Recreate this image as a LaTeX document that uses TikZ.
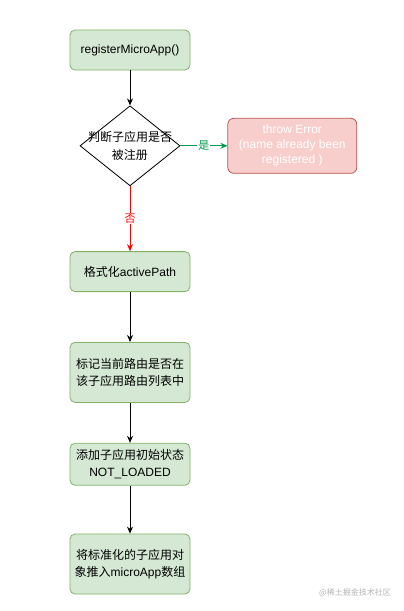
\documentclass[tikz,border=0pt]{standalone}
\usepackage{fontspec}
\setmainfont{Liberation Sans}
\newfontfamily\cjk{Noto Sans CJK SC}
\usepackage{xcolor}
\usepackage{tikz}
\usetikzlibrary{positioning,arrows.meta,shapes.geometric}
\definecolor{boxgreen}{HTML}{D5E8D4}
\definecolor{linegreen}{HTML}{82B366}
\definecolor{boxred}{HTML}{F8CECC}
\definecolor{linered}{HTML}{B85450}
\definecolor{yesgreen}{HTML}{00994D}
\definecolor{nored}{HTML}{FF0000}

\begin{document}
\begin{tikzpicture}[
    x=1pt, y=1pt,
    font=\fontsize{12}{17.5}\selectfont,
    stepbox/.style={rectangle, rounded corners=5pt, draw=linegreen, fill=boxgreen,
                    line width=0.8pt, minimum width=120pt, minimum height=40pt, align=center, inner sep=2pt},
    check/.style={diamond, draw=black, fill=white, line width=0.8pt,
                  minimum width=100pt, minimum height=80pt, inner sep=0pt},
    errbox/.style={rectangle, rounded corners=6pt, draw=linered, fill=boxred, text=white,
                   line width=0.8pt, minimum width=129pt, minimum height=55pt, align=center,
                   font=\fontsize{12}{15}\selectfont},
    arrow/.style={-{Stealth[length=7pt,width=6pt]}, line width=0.9pt},
    yesline/.style={arrow, draw=yesgreen},
    noline/.style={arrow, draw=nored}
]
\useasboundingbox (0,0) rectangle (404,-611);

% Main column
\node[stepbox] (reg) at (130,-50) {registerMicroApp()};
\node[check, below=35pt of reg, label={[align=center]center:{\cjk 判断子应用是否}\\{\cjk 被注册}}] (judge) {};
\node[errbox, right=47pt of judge] (err) {throw Error\\ (name already been\\registered )};
\node[stepbox, below=65pt of judge] (fmt) {{\cjk 格式化}activePath};
\node[stepbox, below=50pt of fmt, minimum height=60pt] (mark) {{\cjk 标记当前路由是否在}\\{\cjk 该子应用路由列表中}};
\node[stepbox, below=40pt of mark, minimum height=42pt] (init) {{\cjk 添加子应用初始状态}\\NOT\_LOADED};
\node[stepbox, below=48pt of init, minimum height=60pt] (push) {{\cjk 将标准化的子应用对}\\{\cjk 象推入}microApp{\cjk 数组}};

% Connections
\draw[arrow] (reg) -- (judge);
\draw[yesline] (judge) -- node[fill=white, text=yesgreen, inner sep=1pt, font=\cjk\fontsize{11}{12}\selectfont] {是} (err);
\draw[noline] (judge) -- node[fill=white, text=nored, inner sep=1pt, font=\cjk\fontsize{11}{12}\selectfont] {否} (fmt);
\draw[arrow] (fmt) -- (mark);
\draw[arrow] (mark) -- (init);
\draw[arrow] (init) -- (push);

% Watermark
\node[text=black!30, font=\cjk\fontsize{8}{9}\selectfont] (mark2) at (355,-593) {@稀土掘金技术社区};
\end{tikzpicture}
\end{document}
